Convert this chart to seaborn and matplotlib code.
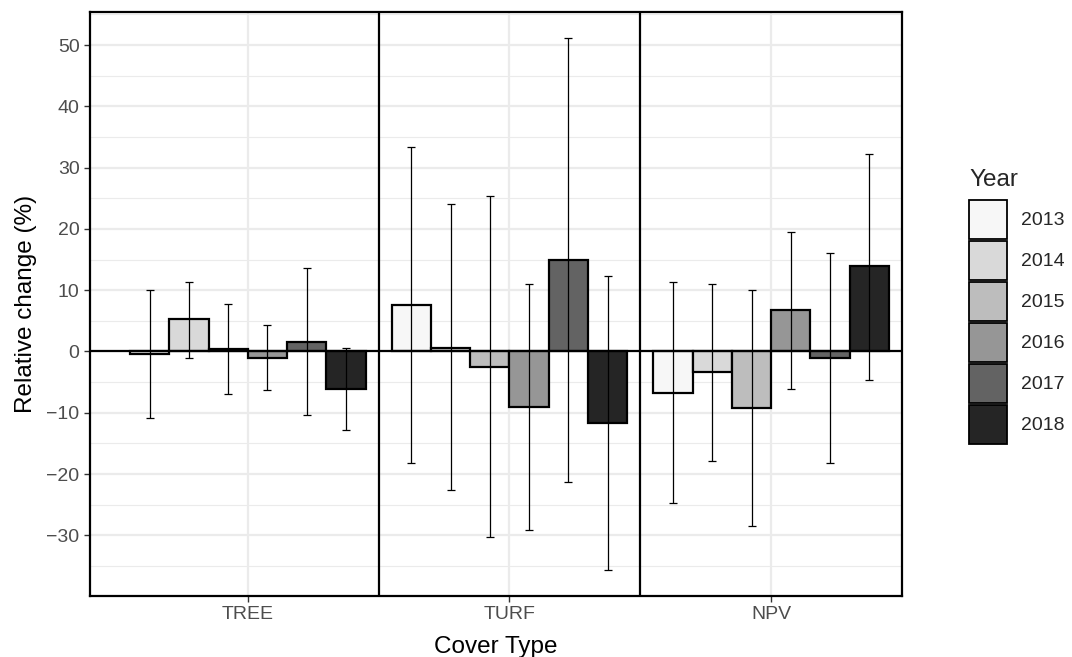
import numpy as np
import pandas as pd
import matplotlib
matplotlib.use("Agg")
import matplotlib.pyplot as plt
import seaborn as sns
from matplotlib.patches import Patch
from matplotlib.ticker import MultipleLocator

covers = ["TREE", "TURF", "NPV"]
years = ["2013", "2014", "2015", "2016", "2017", "2018"]
tree_mean = [-0.4, 5.3, 0.4, -1.1, 1.6, -6.1]
tree_lo = [-10.8, -1.0, -7.0, -6.3, -10.4, -12.8]
tree_hi = [10.0, 11.4, 7.7, 4.3, 13.6, 0.6]
turf_mean = [7.6, 0.6, -2.5, -9.1, 14.9, -11.7]
turf_lo = [-18.2, -22.6, -30.3, -29.2, -21.3, -35.7]
turf_hi = [33.3, 24.0, 25.3, 11.0, 51.1, 12.4]
npv_mean = [-6.8, -3.4, -9.3, 6.7, -1.1, 13.9]
npv_lo = [-24.7, -17.9, -28.5, -6.1, -18.2, -4.6]
npv_hi = [11.3, 11.0, 10.0, 19.5, 16.1, 32.3]
palette = ["#f7f7f7", "#d9d9d9", "#bdbdbd", "#969696", "#636363", "#252525"]

rows = []
for cov, m, lo, hi in [("TREE", tree_mean, tree_lo, tree_hi),
                       ("TURF", turf_mean, turf_lo, turf_hi),
                       ("NPV", npv_mean, npv_lo, npv_hi)]:
    for y, a, b, c in zip(years, m, lo, hi):
        rows.append(dict(cover=cov, year=y, value=a, lo=b, hi=c))
df = pd.DataFrame(rows)

sns.set_theme(style="white")
plt.rcParams["font.family"] = ["Liberation Sans", "DejaVu Sans"]

fig = plt.figure(figsize=(10.72, 6.57), dpi=100)
ax = fig.add_axes([90/1072, 1-596/657, (902-90)/1072, (596-12)/657])

sns.barplot(data=df, x="cover", y="value", hue="year", order=covers,
            hue_order=years, palette=palette, edgecolor="black",
            linewidth=1.6, errorbar=None, width=0.9, dodge=True, ax=ax,
            legend=False, zorder=3)

for cont, yr in zip(ax.containers, years):
    for bar, cov in zip(cont, covers):
        r = df[(df.cover == cov) & (df.year == yr)].iloc[0]
        xc = bar.get_x() + bar.get_width() / 2
        ax.errorbar([xc], [r.value], yerr=[[r.value - r.lo], [r.hi - r.value]],
                    fmt="none", ecolor="black", elinewidth=0.9, capsize=3,
                    capthick=0.9, zorder=5)

ax.axhline(0, color="black", lw=1.6, zorder=4)
for xv in [0.5, 1.5]:
    ax.axvline(xv, color="black", lw=1.6, zorder=4)

ax.set_xlim(-0.603, 2.5)
ax.set_ylim(-39.9, 55.4)
ax.yaxis.set_major_locator(MultipleLocator(10))
ax.yaxis.set_minor_locator(MultipleLocator(5))
ax.set_axisbelow(True)
ax.grid(which="major", axis="both", color="#ebebeb", lw=1.6, zorder=0)
ax.grid(which="minor", axis="y", color="#ebebeb", lw=0.8, zorder=0)

ax.set_yticks(ax.get_yticks())
ax.set_yticklabels([("\u2212" + str(int(-t))) if t < 0 else str(int(t)) for t in ax.get_yticks()])
ax.set_ylim(-39.9, 55.4)
ax.tick_params(axis="both", which="major", length=4.5, width=1.0, color="#333333",
               labelcolor="#4d4d4d", labelsize=14, direction="out",
               left=True, bottom=True, pad=3)
ax.tick_params(axis="y", which="minor", length=0)
for s in ax.spines.values():
    s.set_color("black")
    s.set_linewidth(1.6)

ax.set_xlabel("Cover Type", fontsize=17.5, color="black", labelpad=9)
ax.set_ylabel("Relative change (%)", fontsize=17.5, color="black", labelpad=7)

handles = [Patch(facecolor=c, edgecolor="black", linewidth=1.3) for c in palette]
leg = ax.legend(handles, years, title="Year", loc="upper left",
                bbox_to_anchor=(969/1072, 1-169/657), bbox_transform=fig.transFigure,
                frameon=False, fontsize=14, title_fontsize=17.5,
                handlelength=1.95, handleheight=2.67, labelspacing=0.13,
                handletextpad=0.74, borderaxespad=0, borderpad=0)
leg._legend_box.align = "left"
leg._legend_box.sep = 6.5

fig.savefig("out.png", dpi=100)
